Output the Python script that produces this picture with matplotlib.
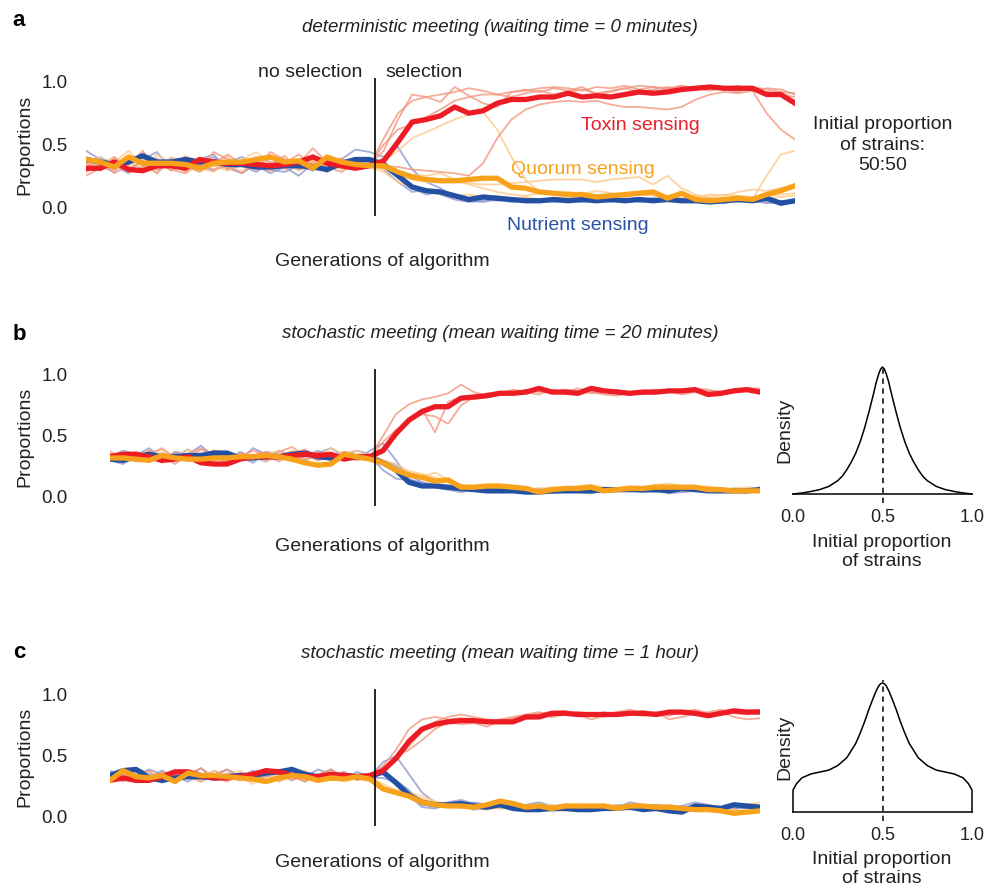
import numpy as np
import matplotlib
matplotlib.use('Agg')
from matplotlib import pyplot as plt

plt.rcParams['font.family'] = ['Liberation Sans', 'DejaVu Sans']

W, H = 991, 888
gens = list(range(51))  # generations of algorithm
sel_gen = 20.4          # where selection starts

# ---- panel a: deterministic meeting (values in hundredths) ----
a_tox = [31,31,36,30,29,33,33,31,38,36,35,35,34,33,34,36,40,35,33,31,33,
         37,52,68,70,73,80,75,77,83,86,86,88,88,91,
         88,89,88,90,92,91,92,94,95,96,95,95,95,90,90,83]
a_quo = [38,36,32,40,35,35,35,34,31,35,36,36,38,40,36,37,31,40,36,34,33,
         33,28,24,22,21,21,22,23,23,16,15,12,11,10,
         10,8,9,10,11,12,7,11,6,5,6,7,6,10,13,17]
a_nut = [38,36,34,36,41,36,36,38,36,36,34,34,32,32,33,33,32,30,35,38,38,
         34,25,16,13,12,9,6,8,7,6,5,5,6,5,6,5,6,5,6,5,6,5,5,4,5,6,5,7,3,5]
a_tox_runs = [
    [28,34,30,40,33,37,29,35,31,44,38,33,40,36,31,35,47,36,39,32,34,
     45,70,90,88,84,96,89,83,80,92,93,95,96,95,93,96,95,97,94,96,95,97,94,96,95,97,93,95,94,90],
    [35,29,40,31,36,27,38,33,28,35,42,34,30,44,38,33,30,37,33,36,33,
     55,75,85,88,90,92,95,93,90,92,94,92,95,93,96,90,92,95,97,96,94,97,95,93,96,95,93,75,62,54],
    [40,36,27,33,45,30,34,40,35,30,33,27,36,33,41,30,36,32,28,34,32,
     33,32,30,29,28,27,25,35,55,70,78,82,84,85,84,85,82,80,80,79,78,80,86,90,92,91,93,92,90,88],
    [25,31,38,28,32,39,30,27,34,38,30,37,33,29,35,42,33,29,36,31,34,
     50,62,66,72,78,85,88,90,90,88,91,93,90,92,94,91,93,95,92,94,96,93,95,97,94,92,96,94,92,91],
]
a_quo_runs = [
    [33,40,29,36,31,42,35,28,37,33,29,38,44,35,30,36,33,39,31,35,33,
     37,45,55,60,65,70,74,76,62,40,22,12,10,9,8,10,9,8,10,9,8,7,9,8,10,9,8,9,10,11],
    [38,31,36,45,33,27,40,36,31,28,37,34,31,40,36,29,35,33,38,30,33,
     30,25,22,20,20,20,19,18,18,19,20,21,22,22,22,20,22,23,24,18,25,15,10,7,6,7,6,25,42,45],
    [29,35,40,30,38,34,30,41,36,33,31,29,35,33,38,32,37,28,34,33,32,
     28,20,15,12,10,9,10,8,9,7,8,6,7,8,6,7,5,6,7,6,8,5,6,7,5,6,5,7,8,9],
    [35,30,33,38,28,36,33,30,39,35,40,32,36,30,35,38,33,36,30,34,33,
     32,28,26,25,27,22,18,15,12,10,9,11,10,12,10,13,11,9,12,10,9,11,8,10,9,12,14,13,15,18],
]
a_nut_runs = [
    [45,38,35,30,37,33,39,29,35,40,31,27,35,30,28,33,29,35,38,46,44,
     40,48,30,20,15,8,5,7,5,6,4,5,7,5,4,6,5,7,4,5,6,4,6,5,3,5,6,8,4,6],
    [30,40,33,27,38,44,30,36,33,29,36,40,33,27,32,25,35,30,32,36,36,
     32,25,15,10,12,8,5,4,6,5,7,4,6,5,7,5,6,4,6,7,5,6,4,6,7,4,5,3,4,5],
    [36,33,28,40,35,30,34,32,38,42,30,33,28,35,38,30,33,28,36,33,35,
     30,20,12,14,10,6,4,5,6,4,5,6,4,5,7,5,4,6,5,7,6,5,4,5,6,5,7,4,5,4],
]

# ---- panel b: stochastic meeting, mean waiting 20 min ----
b_tox = [33,35,35,33,30,31,33,28,27,27,31,33,33,33,34,35,34,35,31,33,33,
         38,52,63,70,74,74,81,82,83,85,85,86,89,86,86,85,89,87,86,85,86,86,87,87,88,84,85,87,88,86]
b_quo = [32,32,31,30,34,32,31,31,32,32,33,33,34,33,31,28,26,27,35,33,31,
         28,22,18,16,13,14,8,8,9,9,8,7,4,6,7,7,8,5,6,7,7,8,8,8,8,6,6,5,5,5]
b_nut = [31,30,33,35,33,33,34,34,36,36,32,32,33,33,35,36,33,32,33,33,32,
         28,22,12,9,9,8,7,6,5,5,5,4,4,5,5,5,5,6,6,6,6,6,5,7,6,5,5,5,5,6]
b_tox_runs = [
    [31,36,29,38,33,27,35,40,32,29,36,33,30,37,41,34,30,36,33,31,33,
     50,68,76,80,82,85,92,86,83,84,85,88,86,87,85,84,88,86,87,85,86,88,86,87,89,88,86,88,89,89],
    [35,30,37,33,28,36,32,39,35,30,33,38,34,29,35,39,33,30,37,34,32,
     45,55,62,68,66,60,75,82,85,86,84,87,89,86,88,87,85,86,88,84,86,85,87,86,88,87,86,88,87,88],
    [36,33,31,35,40,32,30,34,38,36,30,34,37,33,36,31,37,33,31,35,34,
     40,50,64,72,53,78,82,80,82,85,88,86,84,88,86,89,86,84,83,86,84,85,87,84,86,85,84,86,87,88],
]
b_quo_runs = [
    [38,32,35,30,36,33,39,31,34,28,35,30,36,33,29,37,33,40,35,30,31,
     28,22,18,17,20,14,10,9,9,10,8,6,7,8,7,9,10,8,7,9,8,10,11,9,8,7,6,7,8,7],
    [30,35,33,38,29,34,30,36,32,37,31,35,29,33,38,34,30,33,36,38,33,
     27,24,20,15,12,8,8,6,7,9,6,5,6,5,7,8,6,7,5,6,8,6,7,5,6,7,6,5,6,6],
    [33,37,30,34,39,30,36,33,29,35,33,31,35,38,32,30,36,29,32,34,35,
     30,27,21,19,16,12,10,8,7,8,7,6,5,7,6,6,9,7,6,7,6,8,7,7,8,9,7,6,5,6],
]
b_nut_runs = [
    [30,27,34,40,32,36,31,29,38,33,30,40,35,31,33,29,36,40,33,30,38,
     44,30,15,10,8,6,5,7,5,4,5,6,4,3,5,6,4,5,6,5,4,6,3,4,6,5,4,5,6,5],
    [36,33,30,36,29,37,35,42,33,30,37,33,29,38,34,36,30,33,37,34,33,
     22,15,14,12,8,6,4,6,8,5,4,6,7,5,6,4,3,5,6,7,5,4,6,5,7,6,5,4,6,7],
    [33,38,35,29,36,33,39,32,30,35,33,28,37,35,30,33,38,31,34,38,35,
     30,26,18,12,10,8,9,7,5,4,5,7,6,4,4,5,6,4,5,6,4,5,7,4,5,6,5,7,6,8],
]

# ---- panel c: stochastic meeting, mean waiting 1 hour ----
c_tox = [30,32,30,30,33,37,37,34,32,32,33,35,38,37,34,33,33,35,34,33,34,
         38,48,62,72,76,78,79,79,78,78,78,82,82,85,85,84,84,84,84,85,85,84,86,86,85,83,85,87,86,86]
c_quo = [30,38,33,32,34,29,36,34,34,33,32,31,29,32,34,33,30,32,31,33,31,
         23,20,17,12,10,9,9,8,10,13,11,8,9,7,9,9,9,9,7,9,9,8,8,7,6,6,5,3,4,5]
c_nut = [34,38,39,32,30,32,33,33,32,33,34,34,36,37,39,35,33,34,34,33,33,
         37,28,18,12,10,10,11,9,8,10,7,6,6,7,7,6,6,7,7,8,6,7,5,4,9,8,7,10,9,8]
c_tox_runs = [
    [33,29,35,31,37,30,35,40,33,29,36,33,38,35,30,37,33,30,36,34,33,
     42,55,72,80,82,80,81,79,78,80,82,84,86,82,85,86,83,86,84,85,87,85,83,86,88,85,84,86,87,88],
    [30,35,32,38,29,34,37,31,35,39,32,35,30,33,38,32,35,39,31,33,35,
     40,47,58,70,78,82,84,82,80,79,80,83,85,86,87,84,80,83,86,88,85,86,84,87,85,86,88,85,84,86],
    [36,32,38,34,30,36,33,29,34,31,36,30,34,37,33,29,35,33,37,30,34,
     38,50,55,63,72,78,76,77,74,79,81,83,84,82,84,86,85,82,86,84,83,86,80,82,85,84,86,82,80,81],
]
c_quo_runs = [
    [31,36,33,29,35,38,31,34,30,36,33,27,35,32,36,29,34,37,31,35,32,
     27,22,20,17,13,10,11,10,8,12,9,7,8,7,9,10,8,9,10,7,8,9,10,8,6,7,5,6,4,7],
    [35,31,37,33,30,35,34,29,38,33,30,36,31,35,33,38,30,34,30,33,35,
     25,20,18,15,12,10,9,8,9,7,8,6,9,10,7,8,10,9,8,6,7,8,6,7,8,9,7,6,5,5],
    [33,35,30,37,33,30,36,33,31,35,38,32,35,29,33,35,32,36,33,31,30,
     24,21,16,14,11,9,8,7,6,8,6,5,7,6,5,7,6,8,7,8,6,5,7,6,5,7,8,9,10,12],
]
c_nut_runs = [
    [38,33,40,36,28,35,33,40,30,36,33,38,34,29,36,33,39,35,30,37,33,
     45,50,35,20,12,8,10,12,10,7,8,6,9,7,8,9,6,10,8,12,10,8,7,9,12,10,8,6,10,9],
    [30,36,33,39,35,30,35,31,38,33,30,35,36,31,34,29,35,33,37,31,35,
     35,30,22,10,9,12,14,11,9,10,8,10,12,9,10,8,9,7,10,9,8,10,9,7,10,9,8,7,8,9],
    [34,30,37,32,38,33,29,35,33,39,34,31,33,37,30,36,32,39,33,35,32,
     32,28,18,8,7,10,9,6,7,8,9,6,7,5,6,7,5,6,7,8,5,6,8,9,7,5,6,8,7,6],
]

# ---- initial-proportion densities (peak scaled to 1) ----
dens_x = [0, 0.05, 0.1, 0.15, 0.2, 0.25, 0.275, 0.3, 0.325, 0.35, 0.375, 0.4, 0.425, 0.45,
          0.465, 0.48, 0.49, 0.5, 0.51, 0.52, 0.535, 0.55, 0.575, 0.6, 0.625, 0.65, 0.675,
          0.7, 0.725, 0.75, 0.8, 0.85, 0.9, 0.95, 1]
dens_b = [0, 0.008, 0.02, 0.035, 0.06, 0.105, 0.14, 0.19, 0.25, 0.32, 0.41, 0.52, 0.65, 0.79,
          0.88, 0.95, 0.985, 1.0, 0.985, 0.95, 0.88, 0.79, 0.65, 0.52, 0.41, 0.32, 0.25,
          0.19, 0.14, 0.105, 0.06, 0.035, 0.02, 0.008, 0]
dens_c_x = [0, 0, 0.02, 0.05, 0.1, 0.15, 0.2, 0.25, 0.3, 0.35, 0.375, 0.4, 0.425, 0.45, 0.465,
            0.48, 0.49, 0.5, 0.51, 0.52, 0.535, 0.55, 0.575, 0.6, 0.625, 0.65, 0.7, 0.75,
            0.8, 0.85, 0.9, 0.95, 0.98, 1, 1]
dens_c = [0, 0.17, 0.22, 0.265, 0.295, 0.31, 0.325, 0.36, 0.42, 0.53, 0.61, 0.7, 0.8, 0.89,
          0.94, 0.98, 0.995, 1.0, 0.995, 0.98, 0.94, 0.89, 0.8, 0.7, 0.61, 0.53, 0.42, 0.36,
          0.325, 0.31, 0.295, 0.265, 0.22, 0.17, 0]

red, orange, blue = '#ED1C24', '#F8A21C', '#2350A3'
red_l, orange_l, blue_l = '#F3977F', '#FDC98A', '#8E97D0'

fig = plt.figure(figsize=(W / 100, H / 100), dpi=100)


def px_axes(x0, y0, x1, y1):
    ''' axes placed by pixel box (top-left origin) '''
    return fig.add_axes([x0 / W, 1 - y1 / H, (x1 - x0) / W, (y1 - y0) / H])


def main_panel(box, ylim, pad, tox, quo, nut, tox_runs, quo_runs, nut_runs):
    ax = px_axes(*box)
    for runs, c in ((nut_runs, blue_l), (quo_runs, orange_l), (tox_runs, red_l)):
        for r in runs:
            ax.plot(gens, np.array(r) / 100, color=c, lw=1.3, alpha=0.8, zorder=1)
    ax.plot(gens, np.array(nut) / 100, color=blue, lw=3.8, zorder=3)
    ax.plot(gens, np.array(tox) / 100, color=red, lw=3.8, zorder=4)
    ax.plot(gens, np.array(quo) / 100, color=orange, lw=3.8, zorder=5)
    ax.axvline(sel_gen, color='black', lw=1.2, zorder=6)
    ax.set_xlim(0, 50)
    ax.set_ylim(*ylim)
    ax.set_xticks([])
    ax.set_yticks([0, 0.5, 1.0])
    ax.set_yticklabels(['0.0', '0.5', '1.0'])
    ax.tick_params(axis='y', length=0, pad=pad, labelsize=13.5, labelcolor='#222222')
    for s in ax.spines.values():
        s.set_visible(False)
    return ax


def density_panel(box, ylim, xs, ys):
    ax = px_axes(*box)
    ax.plot(xs, ys, color='black', lw=1.1, clip_on=False)
    ax.plot([0.5, 0.5], [-0.07, 1.02], color='black', lw=1.1, ls=(0, (3.5, 3)), clip_on=False)
    ax.set_xlim(0, 1)
    ax.set_ylim(*ylim)
    ax.set_yticks([])
    ax.set_xticks([0, 0.5, 1.0])
    ax.set_xticklabels(['0.0', '0.5', '1.0'])
    ax.tick_params(axis='x', length=0, pad=11, labelsize=13, labelcolor='#222222')
    for k in ('left', 'right', 'top'):
        ax.spines[k].set_visible(False)
    ax.spines['bottom'].set_linewidth(1.1)
    return ax


main_panel((86, 78.25, 795, 215.75), (-0.07, 1.03), 13, a_tox, a_quo, a_nut,
           a_tox_runs, a_quo_runs, a_nut_runs)
main_panel((110, 368.9, 760, 505.5), (-0.07, 1.05), 30.5, b_tox, b_quo, b_nut,
           b_tox_runs, b_quo_runs, b_nut_runs)
main_panel((110, 688.9, 760, 825.5), (-0.07, 1.05), 30.5, c_tox, c_quo, c_nut,
           c_tox_runs, c_quo_runs, c_nut_runs)

density_panel((793, 360, 972, 494), (0, (494 - 360) / 127), dens_x, dens_b)
density_panel((793, 676, 972, 812), (0, (812 - 676) / 129), dens_c_x, dens_c)


def ftext(x, y, s, **kw):
    fig.text(x / W, 1 - y / H, s, **kw)


txt = '#222222'
for letter, y in (('a', 20), ('b', 335), ('c', 652)):
    ftext(19, y, letter, fontsize=16, fontweight='bold', ha='center', va='center')
ftext(500, 27, 'deterministic meeting (waiting time = 0 minutes)', fontsize=13.5,
      style='italic', ha='center', va='center', color=txt)
ftext(500, 333, 'stochastic meeting (mean waiting time = 20 minutes)', fontsize=13.5,
      style='italic', ha='center', va='center', color=txt)
ftext(500, 653, 'stochastic meeting (mean waiting time = 1 hour)', fontsize=13.5,
      style='italic', ha='center', va='center', color=txt)
for y in (145, 437, 757):
    ftext(25, y, 'Proportions', fontsize=14, rotation=90, ha='center', va='center', color=txt)
for y in (262, 546, 862):
    ftext(382, y, 'Generations of algorithm', fontsize=14, ha='center', va='center', color=txt)

ftext(362, 72, 'no selection', fontsize=14, ha='right', va='center', color=txt)
ftext(385, 72, 'selection', fontsize=14, ha='left', va='center', color=txt)
ftext(640, 125, 'Toxin sensing', fontsize=14, ha='center', va='center', color='#E8202A')
ftext(583, 170, 'Quorum sensing', fontsize=14, ha='center', va='center', color='#F7A21B')
ftext(578, 225, 'Nutrient sensing', fontsize=14, ha='center', va='center', color='#2B53A4')
ftext(883, 145, 'Initial proportion\nof strains:\n50:50', fontsize=14, ha='center',
      va='center', linespacing=1.25, color=txt)

for y in (430, 747):
    ftext(785, y, 'Density', fontsize=14, rotation=90, ha='center', va='center', color=txt)
for y in (552, 869):
    ftext(882, y, 'Initial proportion\nof strains', fontsize=14, ha='center', va='center',
          linespacing=1.2, color=txt)

fig.savefig('out.png', dpi=100)
